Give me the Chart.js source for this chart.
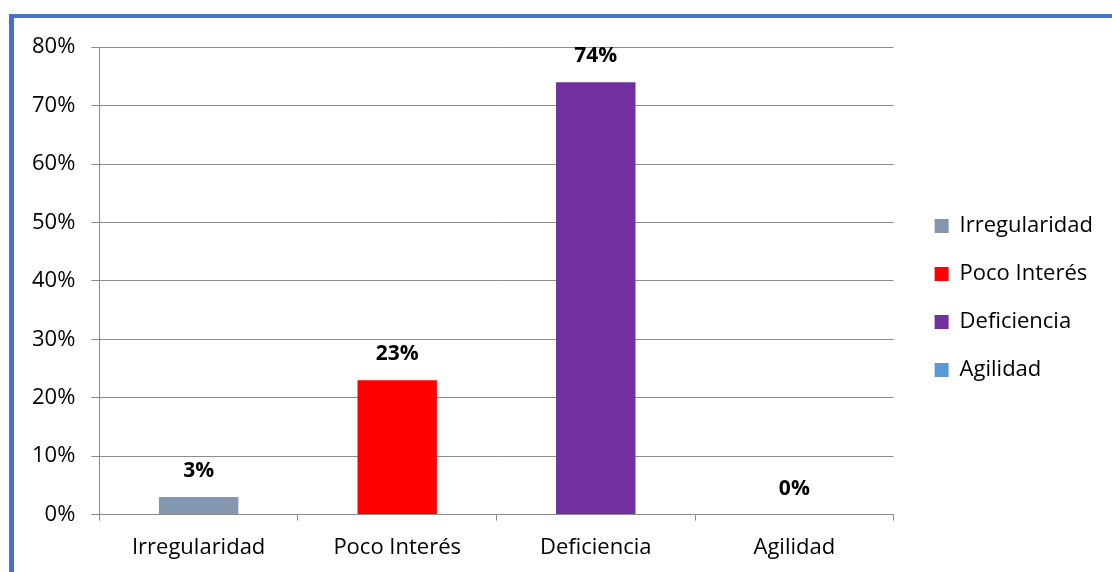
<!DOCTYPE html>
<html>
<head>
<meta charset="utf-8">
<script src="https://cdn.jsdelivr.net/npm/chart.js@4/dist/chart.umd.min.js"></script>
<style>
    html, body { margin: 0; padding: 0; background: #fff; }
    body { width: 1112px; height: 572px; overflow: hidden; position: relative; }
    #marco {
        position: absolute; left: 9px; top: 14px; right: -10px; bottom: -10px;
        border-left: 5px solid #4472C4; border-top: 4px solid #4472C4;
    }
    #wrap { position: absolute; left: 14px; top: 18px; width: 1098px; height: 554px; }
</style>
</head>
<body>
<div id="marco"></div>
<div id="wrap"><canvas id="grafico"></canvas></div>
<script>
// datos
const categorias = ['Irregularidad', 'Poco Interés', 'Deficiencia', 'Agilidad'];
const porcentajes = [3, 23, 74, 0];
const colores = ['#8497B0', '#FF0000', '#7030A0', '#5B9BD5'];
const ticksY = [0, 10, 20, 30, 40, 50, 60, 70, 80];

const fuente = '"Open Sans", Lato, sans-serif';

// etiquetas de valor encima de cada barra
const etiquetas = {
    id: 'etiquetas',
    afterLayout(chart) {
        // la leyenda queda algo separada del area del grafico
        const ley = chart.legend;
        ley.left += 15;
        ley.right += 15;
        ley.top -= 10;
        ley.bottom -= 10;
    },
    afterDatasetsDraw(chart) {
        const { ctx } = chart;
        const meta = chart.getDatasetMeta(0);
        ctx.save();
        ctx.font = 'bold 21px ' + fuente;
        ctx.fillStyle = '#000';
        ctx.textAlign = 'center';
        ctx.textBaseline = 'middle';
        meta.data.forEach((bar, i) => {
            ctx.fillText(porcentajes[i] + '%', bar.x, bar.y - 26);
        });
        ctx.restore();
    }
};

new Chart(document.getElementById('grafico'), {
    type: 'bar',
    data: {
        labels: categorias,
        datasets: [{
            data: porcentajes,
            backgroundColor: colores,
            borderWidth: 0,
            categoryPercentage: 1,
            barPercentage: 0.4,
        }],
    },
    options: {
        responsive: true,
        maintainAspectRatio: false,
        animation: false,
        layout: { autoPadding: false, padding: { left: 2, top: 23, right: 24, bottom: -3 } },
        scales: {
            y: {
                min: 0,
                max: 80,
                afterBuildTicks: axis => { axis.ticks = ticksY.map(v => ({ value: v })); },
                ticks: {
                    callback: v => v + '%',
                    color: '#000',
                    font: { family: fuente, size: 22 },
                    padding: 16,
                },
                grid: { color: '#8C8C8C', tickLength: 8, lineWidth: 1 },
                border: { color: '#8C8C8C' },
            },
            x: {
                ticks: {
                    color: '#000',
                    font: { family: fuente, size: 22 },
                    padding: 14,
                },
                grid: { drawOnChartArea: false, color: '#8C8C8C', tickLength: 6, offset: true },
                border: { color: '#8C8C8C' },
            },
        },
        plugins: {
            tooltip: { enabled: false },
            legend: {
                position: 'right',
                labels: {
                    color: '#000',
                    font: { family: fuente, size: 22 },
                    boxWidth: 14,
                    boxHeight: 14,
                    padding: 26,
                    generateLabels: () => categorias.map((c, i) => ({
                        text: c,
                        fillStyle: colores[i],
                        strokeStyle: colores[i],
                        lineWidth: 0,
                        index: i,
                    })),
                },
            },
        },
    },
    plugins: [etiquetas],
});
</script>
</body>
</html>
